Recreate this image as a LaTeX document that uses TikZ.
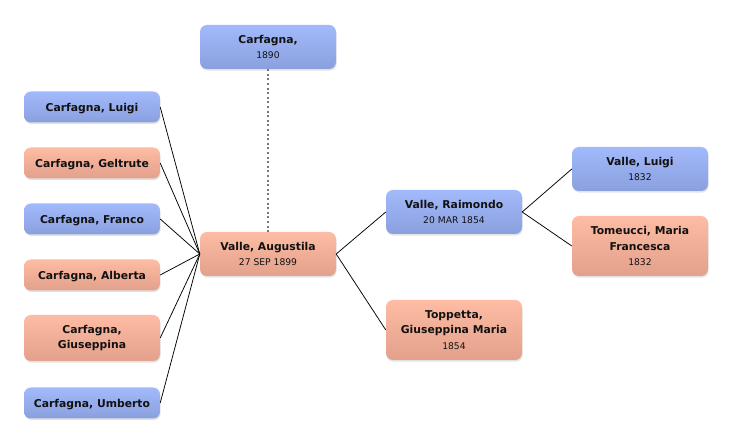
\documentclass[tikz,border=0pt]{standalone}
\usepackage{fontspec}
\setmainfont{DejaVu Sans}
\usetikzlibrary{shadows}
\definecolor{btop}{HTML}{A2B9FB}
\definecolor{bbot}{HTML}{8AA0DE}
\definecolor{ptop}{HTML}{FDBCA3}
\definecolor{pbot}{HTML}{E3A08C}
\definecolor{dotgray}{HTML}{777777}
\definecolor{ink}{HTML}{111111}
\newcommand\dt[1]{{\fontsize{9.2}{10}\selectfont #1}}
\begin{document}
\begin{tikzpicture}[x=1pt,y=-1pt,
  person/.style={rounded corners=7pt, minimum width=136pt, inner sep=0pt, align=center,
    text=ink, drop shadow={opacity=0.22, shadow xshift=0.6pt, shadow yshift=-1.6pt},
    font=\fontsize{10.8}{15.5}\selectfont\bfseries},
  male/.style={person, top color=btop, bottom color=bbot},
  female/.style={person, top color=ptop, bottom color=pbot},
  oneline/.style={minimum height=31pt, text depth=0pt},
  link/.style={draw=black, line width=0.75pt},
  dotlink/.style={draw=dotgray, line width=2pt, dash pattern=on 2pt off 2.6pt}]
\fill[white] (0,0) rectangle (732,443);
\useasboundingbox (0,0) rectangle (732,443);

\node[male, minimum height=44pt] (c1890) at (268,47) {Carfagna,\\\mdseries\dt{1890}};
\node[male, oneline] (luigi) at (92,107) {Carfagna, Luigi};
\node[female, oneline] (geltrute) at (92,163) {Carfagna, Geltrute};
\node[male, oneline] (franco) at (92,219) {Carfagna, Franco};
\node[female, oneline] (alberta) at (92,275) {Carfagna, Alberta};
\node[female, minimum height=46pt] (giuseppina) at (92,338) {Carfagna,\\Giuseppina};
\node[male, oneline] (umberto) at (92,403) {Carfagna, Umberto};

\node[female, minimum height=44pt] (augustila) at (268,254) {Valle, Augustila\\\mdseries\dt{27 SEP 1899}};
\node[male, minimum height=44pt] (raimondo) at (454,212) {Valle, Raimondo\\\mdseries\dt{20 MAR 1854}};
\node[female, minimum height=60pt] (toppetta) at (454,330) {Toppetta,\\Giuseppina Maria\\\mdseries\dt{1854}};
\node[male, minimum height=44pt] (vluigi) at (640,169) {Valle, Luigi\\\mdseries\dt{1832}};
\node[female, minimum height=60pt] (tomeucci) at (640,246) {Tomeucci, Maria\\Francesca\\\mdseries\dt{1832}};

\draw[dotlink] (c1890.south) -- (augustila.north);
\foreach \c in {luigi,geltrute,franco,alberta,giuseppina,umberto}
  \draw[link] (\c.east) -- (augustila.west);
\draw[link] (augustila.east) -- (raimondo.west);
\draw[link] (augustila.east) -- (toppetta.west);
\draw[link] (raimondo.east) -- (vluigi.west);
\draw[link] (raimondo.east) -- (tomeucci.west);
\end{tikzpicture}
\end{document}
